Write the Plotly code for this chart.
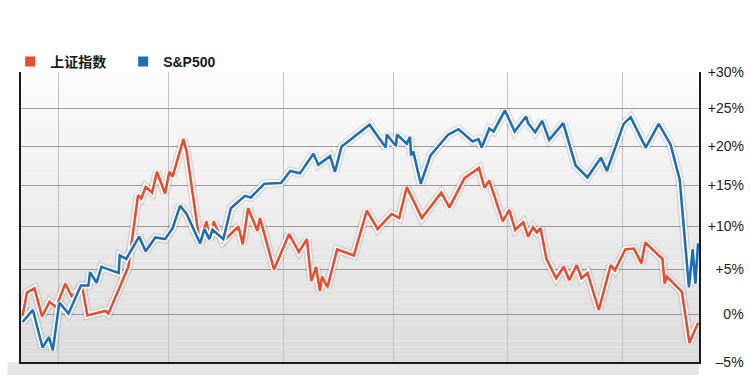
import math
import plotly.graph_objects as go

# ---- data (percent change) ----
series_names = ["上证指数", "S&P500"]
series_colors = ["#ee4a2b", "#1c6ebd"]

red_x = [0.3, 1.1, 2.5, 3.9, 5.3, 6.5, 8.2, 9.4, 11.4, 12.3, 15.6, 16.2, 19.9, 21.7, 22.3,
         23.1, 24.3, 25.2, 26.7, 27.5, 28.1, 30.1, 30.7, 33.1, 34.4, 35.0, 35.7, 37.4, 40.3,
         41.1, 42.1, 43.8, 44.3, 46.9, 49.7, 51.5, 53.0, 53.8, 54.7, 55.4, 55.8, 56.8, 58.6,
         61.7, 64.1, 66.1, 68.7, 70.1, 71.5, 74.3, 77.9, 79.4, 82.2, 84.9, 85.9, 86.8, 89.3,
         90.5, 91.6, 93.1, 94.0, 94.9, 95.6, 96.3, 97.4, 99.2, 100.6, 101.6, 103.0, 103.9,
         105.0, 107.1, 109.3, 110.1, 112.0, 113.6, 115.0, 115.7, 118.9, 119.3, 119.7, 122.5,
         123.9, 125.5]
red_pct = [-0.1, 2.4, 2.9, -0.2, 1.4, 0.8, 3.4, 2.0, 2.9, -0.1, 0.4, 0.1, 5.3, 13.8, 13.4,
           14.8, 14.1, 16.7, 14.0, 16.7, 16.1, 20.9, 19.3, 8.2, 10.6, 8.4, 10.6, 8.2, 10.0,
           7.9, 12.2, 9.5, 11.0, 5.0, 9.1, 7.0, 8.5, 3.7, 5.3, 2.6, 4.2, 3.0, 7.3,
           6.6, 11.9, 9.7, 11.5, 11.0, 14.8, 11.0, 14.1, 12.3, 15.9, 17.2, 14.7, 15.6, 10.6,
           12.0, 9.6, 10.5, 8.8, 9.9, 9.3, 9.8, 6.2, 4.0, 5.3, 3.8, 5.5, 4.0,
           4.6, 0.5, 5.5, 4.9, 7.3, 7.4, 5.7, 8.1, 6.2, 3.4, 4.2, 2.5,
           -3.0, -0.9]

blue_x = [0.3, 2.2, 4.0, 5.2, 5.9, 7.1, 8.8, 11.1, 12.5, 12.8, 14.0, 14.9, 18.1, 18.3, 19.5,
          21.9, 23.1, 24.9, 26.7, 28.1, 29.5, 30.7, 33.2, 34.0, 34.9, 35.5, 37.5, 38.9, 41.5,
          42.6, 45.1, 48.2, 49.9, 51.7, 54.2, 55.1, 57.3, 58.2, 59.4, 64.6, 67.6, 67.8, 69.5,
          69.7, 71.5, 72.1, 72.3, 72.7, 74.1, 75.9, 79.2, 81.1, 83.7, 84.8, 85.4, 86.8, 87.6,
          89.7, 91.5, 93.6, 94.0, 95.3, 96.6, 97.9, 100.5, 102.8, 105.0, 107.5, 108.6, 111.7,
          113.0, 115.8, 118.2, 120.4, 122.1, 123.8, 124.5, 125.0, 125.5]
blue_pct = [-0.8, 0.5, -3.5, -2.4, -3.8, 1.3, 0.1, 3.2, 3.2, 4.7, 3.5, 5.3, 4.6, 6.6, 6.2,
            8.8, 7.1, 8.7, 8.5, 9.8, 12.5, 11.5, 8.0, 9.7, 8.5, 9.6, 8.5, 12.2, 13.7,
            13.5, 15.2, 15.3, 16.8, 16.5, 19.0, 17.6, 18.7, 16.7, 19.9, 22.8, 19.8, 21.5, 20.0,
            21.5, 20.3, 21.2, 18.8, 19.3, 15.2, 18.8, 21.5, 22.2, 20.6, 20.9, 19.8, 22.3, 21.9,
            24.7, 21.9, 23.9, 23.0, 21.8, 23.3, 20.8, 23.0, 17.5, 16.0, 18.5, 16.8, 22.9,
            23.8, 19.8, 22.9, 20.2, 15.7, 3.0, 7.3, 3.4, 8.0]

month_grid_x = [7.0, 27.3, 48.6, 69.1, 90.1, 111.5]
x_range = [0, 125.67]

y_tick_pct = [-5, 0, 5, 10, 15, 20, 25, 30]
FS = "\u2007"
y_tick_text = [FS + "\u20135%", FS + FS + "0%", FS + "+5%", "+10%", "+15%", "+20%", "+25%", "+30%"]


def level(p):
    return 100.0 + p


fig = go.Figure()

series = [(red_x, red_pct), (blue_x, blue_pct)]

# soft shadows
for xs, ps in series:
    fig.add_trace(go.Scatter(x=xs, y=[level(p) for p in ps], mode="lines",
                             line=dict(color="rgba(0,0,0,0.10)", width=9),
                             hoverinfo="skip", showlegend=False))
# white outlines + coloured lines (blue above red)
for (xs, ps), name, col in zip(series, series_names, series_colors):
    ys = [level(p) for p in ps]
    fig.add_trace(go.Scatter(x=xs, y=ys, mode="lines",
                             line=dict(color="white", width=6),
                             hoverinfo="skip", showlegend=False))
    fig.add_trace(go.Scatter(x=xs, y=ys, mode="lines", name=name,
                             line=dict(color=col, width=2.6), showlegend=False))

# legend entries with square swatches
for name, col in zip(series_names, series_colors):
    fig.add_trace(go.Scatter(x=[None], y=[None], mode="markers", name=name,
                             marker=dict(symbol="square", size=10, color=col)))

# background gradient for the plot area (decoration)
shapes = []
nb = 40
for i in range(nb):
    t = i / (nb - 1)
    c = int(round(252 - 32 * t))
    shapes.append(dict(type="rect", xref="paper", yref="paper",
                       x0=0, x1=1, y0=1 - (i + 1) / nb, y1=1 - i / nb,
                       fillcolor=f"rgb({c},{c},{c})", line=dict(width=0), layer="below"))
shapes.append(dict(type="rect", xref="paper", yref="paper", x0=-0.02, x1=1.0,
                   y0=-0.05, y1=0, fillcolor="#e6e6e6", line=dict(width=0), layer="below"))

fig.update_layout(
    width=750, height=375,
    margin=dict(l=21, r=51, t=72, b=13, autoexpand=False),
    paper_bgcolor="white",
    plot_bgcolor="rgba(0,0,0,0)",
    shapes=shapes,
    showlegend=True,
    legend=dict(orientation="h", x=-0.016, xanchor="left", y=1.0345, yanchor="middle",
                entrywidth=68, entrywidthmode="pixels",
                font=dict(family="Liberation Sans, Noto Sans CJK SC", size=14, color="#1a1a1a",
                          weight="bold"),
                bgcolor="rgba(0,0,0,0)", borderwidth=0),
    xaxis=dict(range=x_range, tickvals=month_grid_x, showticklabels=False,
               showgrid=True, gridcolor="#c2c2c2", gridwidth=1, zeroline=False,
               showline=True, linecolor="#1a1a1a", linewidth=2, mirror=False, ticks=""),
    yaxis=dict(type="log", range=[math.log10(level(-5)), math.log10(level(30))],
               tickvals=[level(p) for p in y_tick_pct], ticktext=y_tick_text,
               side="right", showgrid=True, gridcolor="#9a9a9a", gridwidth=1,
               zeroline=False, showline=True, linecolor="#1a1a1a", linewidth=2, mirror=True,
               ticks="", ticklabelstandoff=4,
               tickfont=dict(family="Liberation Sans", size=14, color="#222")),
)

fig.write_html("out.html", config={"displayModeBar": False},
               post_script="document.body.style.margin='0';document.body.style.overflow='hidden';")
